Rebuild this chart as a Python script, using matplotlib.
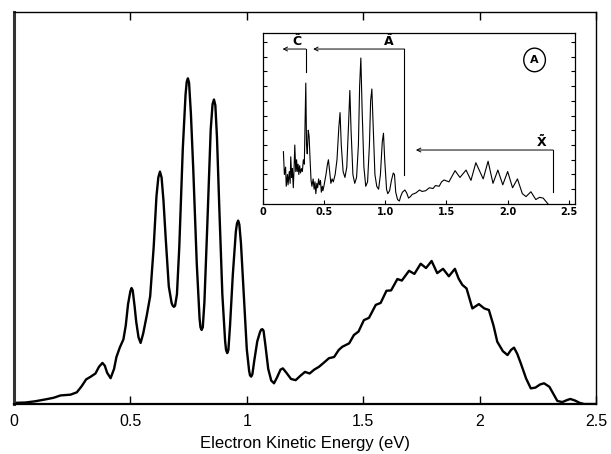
import matplotlib
matplotlib.use("Agg")
import matplotlib.pyplot as plt

# main spectrum (electron kinetic energy, relative intensity)
energy = [0.00, 0.05, 0.09, 0.136, 0.17, 0.20, 0.243, 0.27, 0.29, 0.31, 0.33, 0.35,
          0.365, 0.38, 0.39, 0.40, 0.415, 0.43, 0.44, 0.455, 0.47, 0.48, 0.49, 0.500,
          0.505, 0.510, 0.518, 0.525, 0.535, 0.544, 0.555, 0.570, 0.585, 0.600, 0.612,
          0.620, 0.627, 0.634, 0.642, 0.652, 0.665, 0.677, 0.682, 0.687, 0.692, 0.700,
          0.710, 0.725, 0.737, 0.742, 0.747, 0.752, 0.760, 0.770, 0.785, 0.797, 0.801,
          0.806, 0.811, 0.818, 0.830, 0.845, 0.853, 0.859, 0.865, 0.872, 0.882, 0.895,
          0.907, 0.911, 0.916, 0.921, 0.928, 0.940, 0.953, 0.958, 0.963, 0.968, 0.975,
          0.985, 1.000, 1.010, 1.014, 1.019, 1.024, 1.032, 1.045, 1.057, 1.062, 1.067,
          1.072, 1.080, 1.092, 1.105, 1.117, 1.130, 1.145, 1.155, 1.170, 1.190, 1.210,
          1.230, 1.250, 1.270, 1.290, 1.310, 1.330, 1.353, 1.375, 1.395, 1.410, 1.440,
          1.460, 1.480, 1.503, 1.525, 1.554, 1.575, 1.600, 1.620, 1.647, 1.666, 1.697,
          1.720, 1.747, 1.770, 1.794, 1.818, 1.843, 1.868, 1.894, 1.910, 1.926, 1.944,
          1.969, 1.997, 2.020, 2.040, 2.060, 2.076, 2.100, 2.120, 2.135, 2.148, 2.162,
          2.177, 2.200, 2.220, 2.240, 2.260, 2.277, 2.300, 2.318, 2.334, 2.355, 2.375,
          2.390, 2.410, 2.430, 2.450, 2.500]
intensity = [0.003, 0.004, 0.007, 0.012, 0.016, 0.022, 0.024, 0.030, 0.045, 0.063, 0.070, 0.078,
             0.095, 0.105, 0.098, 0.080, 0.066, 0.090, 0.120, 0.145, 0.165, 0.200, 0.255, 0.288,
             0.296, 0.290, 0.250, 0.210, 0.170, 0.156, 0.180, 0.225, 0.275, 0.400, 0.530,
             0.578, 0.593, 0.578, 0.520, 0.420, 0.300, 0.258, 0.251, 0.248, 0.251, 0.280,
             0.400, 0.650, 0.790, 0.822, 0.831, 0.820, 0.740, 0.600, 0.360, 0.220, 0.196,
             0.189, 0.196, 0.260, 0.450, 0.700, 0.765, 0.777, 0.762, 0.680, 0.500, 0.280,
             0.160, 0.138, 0.130, 0.138, 0.200, 0.330, 0.440, 0.461, 0.468, 0.458, 0.410,
             0.300, 0.140, 0.085, 0.073, 0.070, 0.076, 0.110, 0.160, 0.184, 0.190, 0.191,
             0.187, 0.150, 0.090, 0.060, 0.053, 0.068, 0.088, 0.091, 0.080, 0.064, 0.061,
             0.072, 0.082, 0.078, 0.088, 0.095, 0.105, 0.117, 0.120, 0.138, 0.146, 0.155,
             0.176, 0.185, 0.214, 0.220, 0.253, 0.258, 0.289, 0.290, 0.319, 0.315, 0.340,
             0.332, 0.358, 0.347, 0.365, 0.334, 0.345, 0.326, 0.345, 0.320, 0.304, 0.295,
             0.244, 0.255, 0.244, 0.240, 0.200, 0.159, 0.135, 0.125, 0.138, 0.144, 0.128,
             0.104, 0.065, 0.040, 0.042, 0.050, 0.053, 0.044, 0.025, 0.008, 0.005, 0.010,
             0.013, 0.009, 0.003, 0.000, 0.000]

# inset (raw experimental spectrum)
inset_e = [0.167, 0.175, 0.185, 0.19, 0.20, 0.205, 0.215, 0.222, 0.227, 0.235, 0.24, 0.248,
           0.255, 0.26, 0.268, 0.275, 0.28, 0.287, 0.293, 0.30, 0.307, 0.315, 0.322, 0.33,
           0.338, 0.35, 0.356, 0.362, 0.37, 0.377, 0.385, 0.393, 0.40, 0.41, 0.418, 0.425,
           0.432, 0.44, 0.447, 0.455, 0.462, 0.47, 0.477, 0.485, 0.49, 0.50, 0.515, 0.527,
           0.535, 0.545, 0.555, 0.565, 0.575, 0.59, 0.605, 0.62, 0.63, 0.64, 0.655, 0.67,
           0.685, 0.70, 0.71, 0.72, 0.735, 0.75, 0.765, 0.78, 0.79, 0.80, 0.81, 0.825,
           0.84, 0.855, 0.87, 0.88, 0.89, 0.90, 0.915, 0.93, 0.945, 0.96, 0.975, 0.985,
           0.995, 1.01, 1.02, 1.035, 1.05, 1.065, 1.075, 1.085, 1.10, 1.115, 1.125, 1.14,
           1.16, 1.175, 1.19, 1.205, 1.22, 1.25, 1.28, 1.30, 1.33, 1.36, 1.39, 1.41,
           1.44, 1.46, 1.48, 1.52, 1.57, 1.61, 1.66, 1.70, 1.74, 1.80, 1.84, 1.88,
           1.92, 1.96, 2.00, 2.04, 2.08, 2.12, 2.15, 2.19, 2.23, 2.26, 2.29, 2.33]
inset_i = [0.355, 0.20, 0.25, 0.12, 0.20, 0.13, 0.22, 0.14, 0.32, 0.18, 0.24, 0.11,
           0.26, 0.40, 0.22, 0.30, 0.22, 0.27, 0.20, 0.26, 0.21, 0.24, 0.22, 0.30,
           0.27, 0.82, 0.40, 0.34, 0.50, 0.46, 0.30, 0.16, 0.12, 0.17, 0.10, 0.15,
           0.07, 0.14, 0.11, 0.17, 0.13, 0.16, 0.08, 0.12, 0.09, 0.13, 0.20, 0.27,
           0.30, 0.22, 0.14, 0.17, 0.15, 0.20, 0.30, 0.52, 0.62, 0.40, 0.22, 0.18,
           0.25, 0.55, 0.77, 0.50, 0.20, 0.14, 0.18, 0.40, 0.80, 0.99, 0.65, 0.25,
           0.12, 0.15, 0.40, 0.70, 0.78, 0.55, 0.20, 0.12, 0.10, 0.20, 0.42, 0.48,
           0.30, 0.10, 0.07, 0.09, 0.16, 0.21, 0.20, 0.08, 0.03, 0.02, 0.05, 0.08,
           0.095, 0.074, 0.04, 0.05, 0.065, 0.075, 0.095, 0.085, 0.09, 0.11, 0.105, 0.125,
           0.12, 0.15, 0.163, 0.15, 0.226, 0.18, 0.23, 0.16, 0.28, 0.17, 0.29, 0.14,
           0.23, 0.13, 0.22, 0.11, 0.17, 0.07, 0.05, 0.083, 0.03, 0.045, 0.04, 0.0]

main_ticks = [0, 0.5, 1, 1.5, 2, 2.5]
main_ticklabels = ["0", "0.5", "1", "1.5", "2", "2.5"]
inset_ticks = [0, 0.5, 1.0, 1.5, 2.0, 2.5]
inset_ticklabels = ["0", "0.5", "1.0", "1.5", "2.0", "2.5"]

plt.rcParams['font.family'] = ['Liberation Sans', 'DejaVu Sans']

fig = plt.figure(figsize=(6.11, 4.54), dpi=100)
ax = fig.add_axes([0.0229, 0.110, 0.9525, 0.8634])
ax.plot(energy, intensity, color='black', lw=1.7, solid_joinstyle='round')
ax.set_xlim(0, 2.5)
ax.set_ylim(0, 1)
ax.set_xticks(main_ticks)
ax.set_xticklabels(main_ticklabels)
ax.set_yticks([])
ax.tick_params(axis='x', direction='in', top=True, length=6, width=1,
               labelsize=11.5, pad=7)
ax.set_xlabel("Electron Kinetic Energy (eV)", fontsize=12, labelpad=5)
ax.spines['left'].set_linewidth(2.2)
ax.spines['left'].set_color('#333333')
ax.spines['bottom'].set_linewidth(1.6)
for s in ['top', 'right']:
    ax.spines[s].set_linewidth(1.0)

# inset
ins = fig.add_axes([0.4304, 0.5507, 0.5106, 0.3767])
ins.plot(inset_e, inset_i, color='black', lw=0.8)
ins.set_xlim(0, 2.55)
ins.set_ylim(0, 1.16)
ins.set_xticks(inset_ticks)
ins.set_xticklabels(inset_ticklabels, fontweight='bold', family='DejaVu Sans')
ins.set_yticks([0.1 * k for k in range(1, 12)])
ins.set_yticklabels([])
ins.tick_params(axis='x', direction='in', length=3, width=0.8, labelsize=7, pad=2)
ins.tick_params(axis='y', direction='in', left=True, right=True, length=3, width=0.8)
for s in ins.spines.values():
    s.set_linewidth(0.9)

arrow = dict(arrowstyle='->', lw=0.7, color='black', shrinkA=0, shrinkB=0,
             mutation_scale=7)
# C band
ins.plot([0.35, 0.35], [0.895, 1.051], color='black', lw=0.8)
ins.annotate('', xy=(0.16, 1.051), xytext=(0.35, 1.051), arrowprops=arrow)
ins.text(0.28, 1.05, r'$\mathbf{\tilde{C}}$', fontsize=9,
         ha='center', va='bottom')
# A band
ins.plot([1.156, 1.156], [0.197, 1.051], color='black', lw=0.8)
ins.annotate('', xy=(0.41, 1.051), xytext=(1.156, 1.051), arrowprops=arrow)
ins.text(1.03, 1.05, r'$\mathbf{\tilde{A}}$', fontsize=9,
         ha='center', va='bottom')
# X band
ins.plot([2.37, 2.37], [0.081, 0.366], color='black', lw=0.8)
ins.annotate('', xy=(1.25, 0.366), xytext=(2.37, 0.366), arrowprops=arrow)
ins.text(2.28, 0.365, r'$\mathbf{\tilde{X}}$', fontsize=9,
         ha='center', va='bottom')
# panel label
ins.text(2.22, 0.977, 'A', fontsize=8, fontweight='bold', family='DejaVu Sans',
         ha='center', va='center',
         bbox=dict(boxstyle='ellipse,pad=0.3', fc='white', ec='black', lw=1.0))

fig.savefig('out.png', dpi=100)
